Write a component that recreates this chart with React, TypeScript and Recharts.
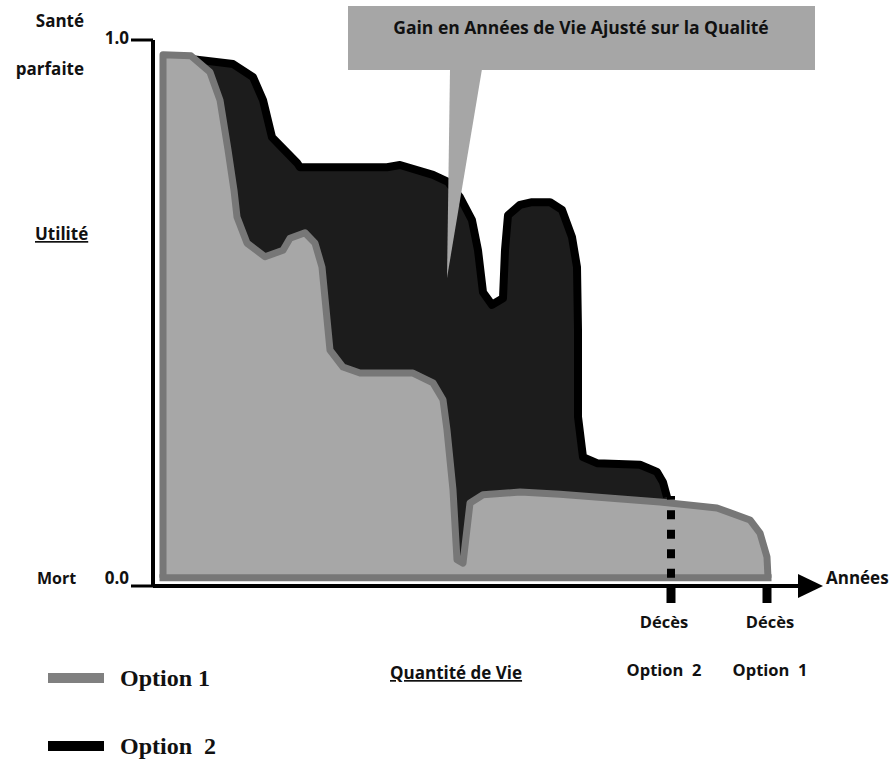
import React from "react";
import { Area, ComposedChart, ReferenceDot, ReferenceLine, XAxis, YAxis } from "recharts";

// Option 1 (grey): years vs utility, traced around the outline
const opt1Years = [0, 0, 2.8, 4.7, 5.7, 6.5, 7.1, 7.4, 8.4, 10.2, 12.0, 12.7, 14.2, 15.2, 15.9, 16.7, 18.0, 19.7, 25.0, 27.0, 28.0, 28.4, 29.0, 29.4, 30.0, 30.7, 32.0, 35.7, 39.7, 49.7, 55.4, 58.7, 59.7, 60.4, 60.5];
const opt1Utility = [0.015, 0.973, 0.971, 0.941, 0.89, 0.799, 0.725, 0.676, 0.628, 0.603, 0.615, 0.637, 0.647, 0.628, 0.584, 0.432, 0.401, 0.39, 0.39, 0.372, 0.341, 0.286, 0.176, 0.048, 0.042, 0.152, 0.167, 0.172, 0.168, 0.154, 0.143, 0.121, 0.097, 0.053, 0.015];

// Option 2 (black)
const opt2Years = [1.0, 3.0, 7.0, 9.0, 10.0, 10.9, 13.4, 13.7, 22.4, 23.7, 27.0, 28.5, 29.7, 30.9, 31.5, 32.0, 32.9, 34.0, 34.2, 34.5, 35.7, 36.9, 38.7, 39.9, 40.9, 41.4, 41.5, 41.5, 42.0, 43.4, 47.7, 49.4, 50.0, 50.4];
const opt2Utility = [0.963, 0.965, 0.956, 0.932, 0.89, 0.822, 0.775, 0.767, 0.767, 0.771, 0.753, 0.74, 0.712, 0.67, 0.615, 0.538, 0.515, 0.527, 0.615, 0.679, 0.698, 0.703, 0.703, 0.689, 0.639, 0.584, 0.469, 0.31, 0.236, 0.225, 0.222, 0.209, 0.19, 0.163];

const deathYears = [50.8, 60.4];
const deathLabels = ["Option\u00a0\u00a02", "Option\u00a0\u00a01"];
const utilityTicks = [0, 1];
const xDomain: [number, number] = [-1, 63.5];

const opt1 = opt1Years.map((x, i) => ({ x, u: opt1Utility[i] }));
const opt2 = opt2Years.map((x, i) => ({ x, u: opt2Utility[i] }));

const SANS = "'Open Sans', Lato, sans-serif";
const SERIF = "'Liberation Serif', 'DejaVu Serif', serif";
const INK = "#111";

function UtilTick({ x, y, payload }: any) {
  const v = payload.value as number;
  return (
    <text x={x} y={y} dy={v === 0 ? -2 : 4} textAnchor="end" fontFamily={SANS} fontWeight={700} fontSize={17} fill={INK}>
      {v.toFixed(1)}
    </text>
  );
}

function DeathTick({ x, y, payload }: any) {
  const i = deathYears.indexOf(payload.value);
  const shift = i === 0 ? -7 : 3;
  return (
    <g fontFamily={SANS} fontWeight={700} fontSize={16.5} fill={INK}>
      <text x={x + shift} y={y + 23} textAnchor="middle">Décès</text>
      <text x={x + shift} y={y + 71} textAnchor="middle">{deathLabels[i]}</text>
    </g>
  );
}

const Arrow = ({ cx, cy }: any) => <polygon points={`${cx},${cy - 12} ${cx + 25},${cy} ${cx},${cy + 12}`} fill="#000" />;

export default function App() {
  return (
    <div style={{ position: "absolute", left: 0, top: 0, width: 894, height: 760, background: "#fff" }}>
      <ComposedChart width={894} height={760} data={opt1} margin={{ top: 40, right: 96, bottom: 74, left: 0 }}>
        <XAxis
          type="number"
          dataKey="x"
          domain={xDomain}
          ticks={deathYears}
          height={100}
          tick={<DeathTick />}
          tickSize={17}
          tickLine={{ stroke: "#000", strokeWidth: 9 }}
          axisLine={{ stroke: "#000", strokeWidth: 4 }}
        />
        <YAxis
          type="number"
          domain={[0, 1]}
          ticks={utilityTicks}
          width={153}
          tick={<UtilTick />}
          tickSize={22}
          tickLine={{ stroke: "#000", strokeWidth: 3 }}
          axisLine={{ stroke: "#000", strokeWidth: 4 }}
        />
        <Area data={opt2} dataKey="u" type="linear" baseValue={0.015} fill="#1c1c1c" fillOpacity={1} stroke="#000" strokeWidth={8} strokeLinejoin="round" isAnimationActive={false} />
        <Area data={opt1} dataKey="u" type="linear" baseValue={0.015} fill="#a7a7a7" fillOpacity={1} stroke="#777" strokeWidth={7} strokeLinejoin="round" isAnimationActive={false} />
        <ReferenceLine segment={[{ x: 0, y: 0.015 }, { x: 60.5, y: 0.015 }]} stroke="#777" strokeWidth={7} strokeLinecap="square" ifOverflow="visible" />
        <ReferenceLine segment={[{ x: deathYears[0], y: 0.015 }, { x: deathYears[0], y: 0.165 }]} stroke="#000" strokeWidth={8} strokeDasharray="9 10.5" ifOverflow="visible" />
        <ReferenceDot x={xDomain[1]} y={0} r={0} ifOverflow="visible" shape={<Arrow />} />
      </ComposedChart>

      <svg width={894} height={760} style={{ position: "absolute", left: 0, top: 0, pointerEvents: "none" }}>
        {/* callout */}
        <rect x={348} y={6} width={467} height={64} fill="#a6a6a6" />
        <polygon points="450,69 482,69 447,278" fill="#a6a6a6" />
        <text x={581} y={34} textAnchor="middle" fontFamily={SANS} fontWeight={700} fontSize={17.5} fill={INK}>
          Gain en Années de Vie Ajusté sur la Qualité
        </text>

        <g fontFamily={SANS} fontWeight={700} fontSize={17} fill={INK}>
          <text x={84} y={27} textAnchor="end">Santé</text>
          <text x={84} y={75} textAnchor="end">parfaite</text>
          <text x={35} y={240} textDecoration="underline">Utilité</text>
          <text x={37} y={584} fontSize={16}>Mort</text>
          <text x={826} y={584}>Années</text>
          <text x={390} y={679} textDecoration="underline">Quantité de Vie</text>
        </g>

        {/* legend */}
        <rect x={48} y={673} width={56} height={10} fill="#808080" />
        <text x={120} y={686} fontFamily={SERIF} fontWeight={700} fontSize={24} fill={INK}>Option 1</text>
        <rect x={48} y={741} width={56} height={10} fill="#000" />
        <text x={120} y={754} fontFamily={SERIF} fontWeight={700} fontSize={24} fill={INK}>{"Option\u00a0\u00a02"}</text>
      </svg>
    </div>
  );
}
